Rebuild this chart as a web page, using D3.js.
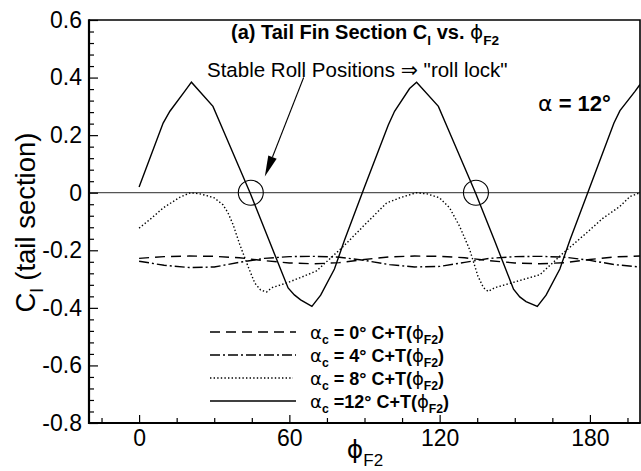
<!DOCTYPE html>
<html>
<head>
<meta charset="utf-8">
<script src="https://cdn.jsdelivr.net/npm/d3@7"></script>
<style>
  body { margin: 0; background: #fff; }
</style>
</head>
<body>
<div id="chart"></div>
<script>
// alpha_c = 12 deg (solid)
var phiA12 = [0, 9.6, 12.3, 18.2, 20.9, 29.5, 33.5, 44.3, 52, 59.5, 62, 64.5, 69, 72.5, 78, 82, 90,
              99.5, 102, 108, 110.8, 119.5, 123.5, 134.3, 142, 149.5, 152, 154.5, 159, 162.5, 168, 172, 180,
              189.6, 192, 198, 200];
var clA12 = [0.02, 0.242, 0.283, 0.352, 0.384, 0.300, 0.219, 0.0, -0.168, -0.331, -0.355, -0.372, -0.395, -0.356, -0.265, -0.165, 0.02,
             0.235, 0.283, 0.362, 0.384, 0.300, 0.219, 0.0, -0.168, -0.335, -0.362, -0.378, -0.395, -0.356, -0.265, -0.165, 0.02,
             0.242, 0.285, 0.352, 0.376];

// alpha_c = 8 deg (dotted)
var phiA8 = [0, 5, 9.6, 16.2, 20.5, 24.2, 27, 30, 33.5, 35.5, 37.5, 40.2, 43.5, 46.2, 48.5, 50.9, 53, 58.8, 63.8, 70.8,
             81.5, 88, 90, 98.8, 104, 110.7, 115, 120, 124, 128, 132, 135.3, 137.5, 139.4, 142, 152, 160, 169.3, 178.6,
             185, 191.9, 196, 200];
var clA8 = [-0.123, -0.088, -0.053, -0.016, 0.0, -0.004, -0.010, -0.018, -0.042, -0.07, -0.11, -0.18, -0.256, -0.314, -0.338, -0.345, -0.33, -0.314, -0.297, -0.272,
            -0.187, -0.13, -0.112, -0.036, -0.018, 0.0, -0.004, -0.018, -0.053, -0.117, -0.198, -0.29, -0.33, -0.343, -0.33, -0.305, -0.285, -0.21, -0.14,
            -0.09, -0.048, -0.013, 0.0];

// alpha_c = 0 and 4 deg (dashed, dash-dot)
var phiA0 = [0, 10, 20, 30, 40, 50, 60, 70, 80, 90, 100, 110, 120, 130, 140, 150, 160, 170, 180, 190, 200];
var clA0 = [-0.228, -0.222, -0.220, -0.221, -0.226, -0.236, -0.244, -0.247, -0.243, -0.232,
            -0.223, -0.220, -0.221, -0.226, -0.236, -0.244, -0.247, -0.243, -0.232, -0.223, -0.220];
var phiA4 = phiA0;
var clA4 = [-0.238, -0.252, -0.260, -0.258, -0.242, -0.228, -0.222, -0.221, -0.224, -0.235,
            -0.250, -0.258, -0.256, -0.242, -0.228, -0.222, -0.221, -0.224, -0.235, -0.250, -0.258];

var legendAngles = ["= 0\u00b0", "= 4\u00b0", "= 8\u00b0", "=12\u00b0"];
var xTicks = [0, 60, 120, 180];
var xMinor = [-15, 15, 30, 45, 75, 90, 105, 135, 150, 165, 195];
var yTicks = [-0.8, -0.6, -0.4, -0.2, 0, 0.2, 0.4, 0.6];
var yTickLabels = ["-0.8", "-0.6", "-0.4", "-0.2", "0", "0.2", "0.4", "0.6"];
var yMinor = d3.range(-0.76, 0.6, 0.04).filter(function(v) { return Math.abs(v / 0.2 - Math.round(v / 0.2)) > 0.01; });
var stablePhi = [44.6, 134.5];
var arrowFrom = [65.7, 0.40], arrowTo = [50.2, 0.056];

var W = 641, H = 471;
var FONT = "'Liberation Sans', Arial, Helvetica, sans-serif";
var GREEK = "'DejaVu Sans', sans-serif";

var x = d3.scaleLinear().domain([-20, 200]).range([89, 640]);
var y = d3.scaleLinear().domain([-0.8, 0.6]).range([423, 20]);

var svg = d3.select("#chart").append("svg")
    .attr("width", W)
    .attr("height", H)
    .style("background", "#fff");

svg.append("defs").append("clipPath").attr("id", "plot-clip")
  .append("rect")
    .attr("x", x.range()[0]).attr("y", y.range()[1])
    .attr("width", x.range()[1] - x.range()[0])
    .attr("height", y.range()[0] - y.range()[1]);

// zero line
svg.append("line")
    .attr("x1", x.range()[0]).attr("x2", x.range()[1])
    .attr("y1", y(0)).attr("y2", y(0))
    .attr("stroke", "#555").attr("stroke-width", 1.3);

var series = [
  {phi: phiA0, cl: clA0, dash: "10,6"},
  {phi: phiA4, cl: clA4, dash: "10,3,2,3"},
  {phi: phiA8, cl: clA8, dash: "1.4,2.2"},
  {phi: phiA12, cl: clA12, dash: null}
];

var line = d3.line()
    .x(function(d) { return x(d[0]); })
    .y(function(d) { return y(d[1]); });

var curves = svg.append("g").attr("clip-path", "url(#plot-clip)");
series.forEach(function(s) {
  var pts = s.phi.map(function(p, i) { return [p, s.cl[i]]; });
  curves.append("path")
      .attr("d", line(pts))
      .attr("fill", "none")
      .attr("stroke", "#000")
      .attr("stroke-width", 1.4)
      .attr("stroke-dasharray", s.dash);
});

// axes, ticks pointing inward
function styleAxis(g) {
  g.select(".domain").remove();
  g.selectAll(".tick line").attr("stroke", "#000").attr("stroke-width", 1.2);
  g.selectAll(".tick text").attr("font-family", FONT).attr("font-size", 23).attr("fill", "#000");
}
svg.append("g")
    .attr("transform", "translate(" + x.range()[0] + ",0)")
    .call(d3.axisLeft(y).tickValues(yTicks).tickSize(-9).tickPadding(7)
      .tickFormat(function(d, i) { return yTickLabels[i]; }))
    .call(styleAxis);
svg.append("g")
    .attr("transform", "translate(" + x.range()[0] + ",0)")
    .call(d3.axisLeft(y).tickValues(yMinor).tickSize(-5).tickFormat(""))
    .call(styleAxis);
svg.append("g")
    .attr("transform", "translate(0," + y.range()[0] + ")")
    .call(d3.axisBottom(x).tickValues(xTicks).tickSize(-8).tickPadding(7))
    .call(styleAxis);
svg.append("g")
    .attr("transform", "translate(0," + y.range()[0] + ")")
    .call(d3.axisBottom(x).tickValues(xMinor).tickSize(-5).tickFormat(""))
    .call(styleAxis);

// frame
var fx0 = x.range()[0], fx1 = x.range()[1], fy0 = y.range()[1], fy1 = y.range()[0];
svg.append("path").attr("d", "M" + fx0 + "," + fy0 + "H" + fx1 + "V" + fy1)
    .attr("fill", "none").attr("stroke", "#000").attr("stroke-width", 1.6);
svg.append("path").attr("d", "M" + fx0 + "," + (fy0 - 0.8) + "V" + fy1 + "H" + (fx1 + 0.8))
    .attr("fill", "none").attr("stroke", "#000").attr("stroke-width", 2.2);

// stable roll circles
svg.selectAll(".stable").data(stablePhi).enter().append("circle")
    .attr("cx", function(d) { return x(d); })
    .attr("cy", y(0))
    .attr("r", 12.5)
    .attr("fill", "none").attr("stroke", "#000").attr("stroke-width", 1.1);

// arrow
var ax0 = x(arrowFrom[0]), ay0 = y(arrowFrom[1]), ax1 = x(arrowTo[0]), ay1 = y(arrowTo[1]);
var ang = Math.atan2(ay1 - ay0, ax1 - ax0), headL = 21, headW = 4.5;
var bx = ax1 - headL * Math.cos(ang), by = ay1 - headL * Math.sin(ang);
svg.append("line").attr("x1", ax0).attr("y1", ay0).attr("x2", bx).attr("y2", by)
    .attr("stroke", "#000").attr("stroke-width", 1.1);
svg.append("polygon")
    .attr("points", [[ax1, ay1],
      [bx + headW * Math.sin(ang), by - headW * Math.cos(ang)],
      [bx - headW * Math.sin(ang), by + headW * Math.cos(ang)]].map(function(p) { return p.join(","); }).join(" "))
    .attr("fill", "#000");

// rich text helper: parts = [{t, sub, greek}]
function rich(parent, parts, size, weight) {
  var t = parent.append("text").attr("font-family", FONT).attr("font-size", size)
      .attr("font-weight", weight).attr("fill", "#000");
  var shift = 0;
  parts.forEach(function(p) {
    var s = t.append("tspan").text(p.t);
    var want = p.sub ? size * 0.3 : 0;
    if (want !== shift) { s.attr("dy", want - shift); shift = want; }
    if (p.sub) s.attr("font-size", size * 0.68);
    if (p.greek) s.attr("font-family", GREEK).attr("font-weight", "normal");
  });
  return t;
}

// title
rich(svg, [{t: "(a) Tail Fin Section C"}, {t: "l", sub: true}, {t: " vs. "}, {t: "\u03d5", greek: true}, {t: "F2", sub: true}], 20, "bold")
    .attr("x", 231).attr("y", 39);

// annotation
rich(svg, [{t: "Stable Roll Positions "}, {t: "\u21d2", greek: true}, {t: " \"roll lock\""}], 20.5, "normal")
    .attr("x", 207).attr("y", 77);

rich(svg, [{t: "\u03b1", greek: true}, {t: " = 12\u00b0"}], 22, "bold")
    .attr("x", 538).attr("y", 111);

// axis titles
rich(svg, [{t: "\u03d5", greek: true}, {t: "F2", sub: true}], 25, "normal")
    .attr("x", 365).attr("y", 458).attr("text-anchor", "middle");

rich(svg.append("g").attr("transform", "translate(35," + ((fy0 + fy1) / 2 + 1) + ") rotate(-90)"),
    [{t: "C"}, {t: "l", sub: true}, {t: " (tail section)"}], 27.5, "normal")
    .attr("text-anchor", "middle");

// legend
var legend = svg.append("g");
series.forEach(function(s, i) {
  var ly = 332 + i * 23;
  legend.append("line")
      .attr("x1", 210).attr("x2", s.dash === "1.4,2.2" ? 293 : 296)
      .attr("y1", ly).attr("y2", ly)
      .attr("stroke", "#000").attr("stroke-width", 1.4)
      .attr("stroke-dasharray", s.dash);
  rich(legend, [{t: "\u03b1", greek: true}, {t: "c", sub: true}, {t: " " + legendAngles[i] + " C+T("},
                {t: "\u03d5", greek: true}, {t: "F2", sub: true}, {t: ")"}], 18, "bold")
      .attr("x", 310).attr("y", ly + 7);
});
</script>
</body>
</html>
